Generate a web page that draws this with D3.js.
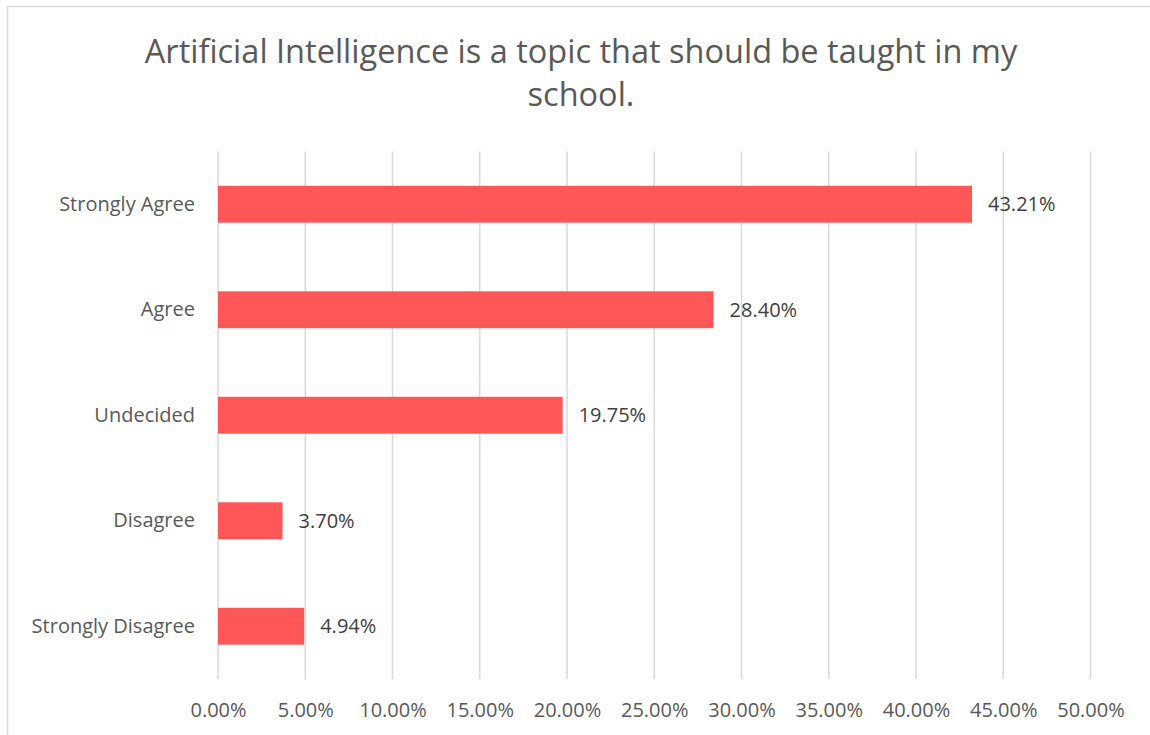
<!DOCTYPE html>
<html>
<head>
<meta charset="utf-8">
<script src="https://cdn.jsdelivr.net/npm/d3@7"></script>
<style>
  body { margin: 0; background: #fff; }
  svg text { font-family: "Open Sans", sans-serif; }
</style>
</head>
<body>
<div id="container"></div>
<script>
// data
const categories = ["Strongly Agree", "Agree", "Undecided", "Disagree", "Strongly Disagree"];
const values = [43.21, 28.40, 19.75, 3.70, 4.94];
const xTicks = [0, 5, 10, 15, 20, 25, 30, 35, 40, 45, 50];
const titleLines = ["Artificial Intelligence is a topic that should be taught in my", "school."];

const w = 1150;
const h = 735;
const plotLeft = 218, plotRight = 1090.5, plotTop = 151.5, plotBottom = 679;
const labelSize = "20px";

const svg = d3.select("#container")
  .append("svg")
  .attr("width", w)
  .attr("height", h);

// chart border
svg.append("rect")
  .attr("x", 7.5).attr("y", 6.5)
  .attr("width", w + 20).attr("height", h + 20)
  .attr("fill", "#fff")
  .attr("stroke", "#d9d9d9")
  .attr("stroke-width", 1.5);

// title
svg.append("text")
  .attr("text-anchor", "middle")
  .attr("fill", "#595959")
  .style("font-size", "32.5px")
  .selectAll("tspan")
  .data(titleLines)
  .enter()
  .append("tspan")
  .attr("x", 581)
  .attr("y", (d, i) => 63 + i * 43)
  .text(d => d);

const xScale = d3.scaleLinear()
  .domain([0, 50])
  .range([plotLeft, plotRight]);

const yScale = d3.scaleBand()
  .domain(categories)
  .range([plotTop, plotBottom])
  .paddingInner(0.65)
  .paddingOuter(0.325);

// gridlines
svg.append("g")
  .selectAll("line")
  .data(xTicks)
  .enter()
  .append("line")
  .attr("x1", d => xScale(d)).attr("x2", d => xScale(d))
  .attr("y1", plotTop).attr("y2", plotBottom)
  .attr("stroke", "#d9d9d9")
  .attr("stroke-width", 1.5);

// bars
svg.append("g")
  .selectAll("rect")
  .data(values)
  .enter()
  .append("rect")
  .attr("x", xScale(0))
  .attr("y", (d, i) => yScale(categories[i]))
  .attr("width", d => xScale(d) - xScale(0))
  .attr("height", yScale.bandwidth())
  .attr("fill", "#ff5757");

// data labels
svg.append("g")
  .selectAll("text")
  .data(values)
  .enter()
  .append("text")
  .attr("x", d => xScale(d) + 16)
  .attr("y", (d, i) => yScale(categories[i]) + yScale.bandwidth() / 2)
  .attr("dy", "0.35em")
  .attr("fill", "#404040")
  .style("font-size", labelSize)
  .text(d => d.toFixed(2) + "%");

// y axis
const yAxis = d3.axisLeft(yScale).tickSize(0).tickPadding(23);
svg.append("g")
  .attr("transform", "translate(" + plotLeft + ",0)")
  .call(yAxis)
  .call(g => g.select(".domain").remove())
  .call(g => g.selectAll("text")
    .attr("fill", "#595959")
    .style("font-size", labelSize)
    .style("font-family", "'Open Sans', sans-serif"));

// x axis
const xAxis = d3.axisBottom(xScale)
  .tickValues(xTicks)
  .tickSize(0)
  .tickPadding(24)
  .tickFormat(d => d.toFixed(2) + "%");
svg.append("g")
  .attr("transform", "translate(0," + plotBottom + ")")
  .call(xAxis)
  .call(g => g.select(".domain").remove())
  .call(g => g.selectAll("text")
    .attr("fill", "#595959")
    .style("font-size", labelSize)
    .style("font-family", "'Open Sans', sans-serif"));
</script>
</body>
</html>
